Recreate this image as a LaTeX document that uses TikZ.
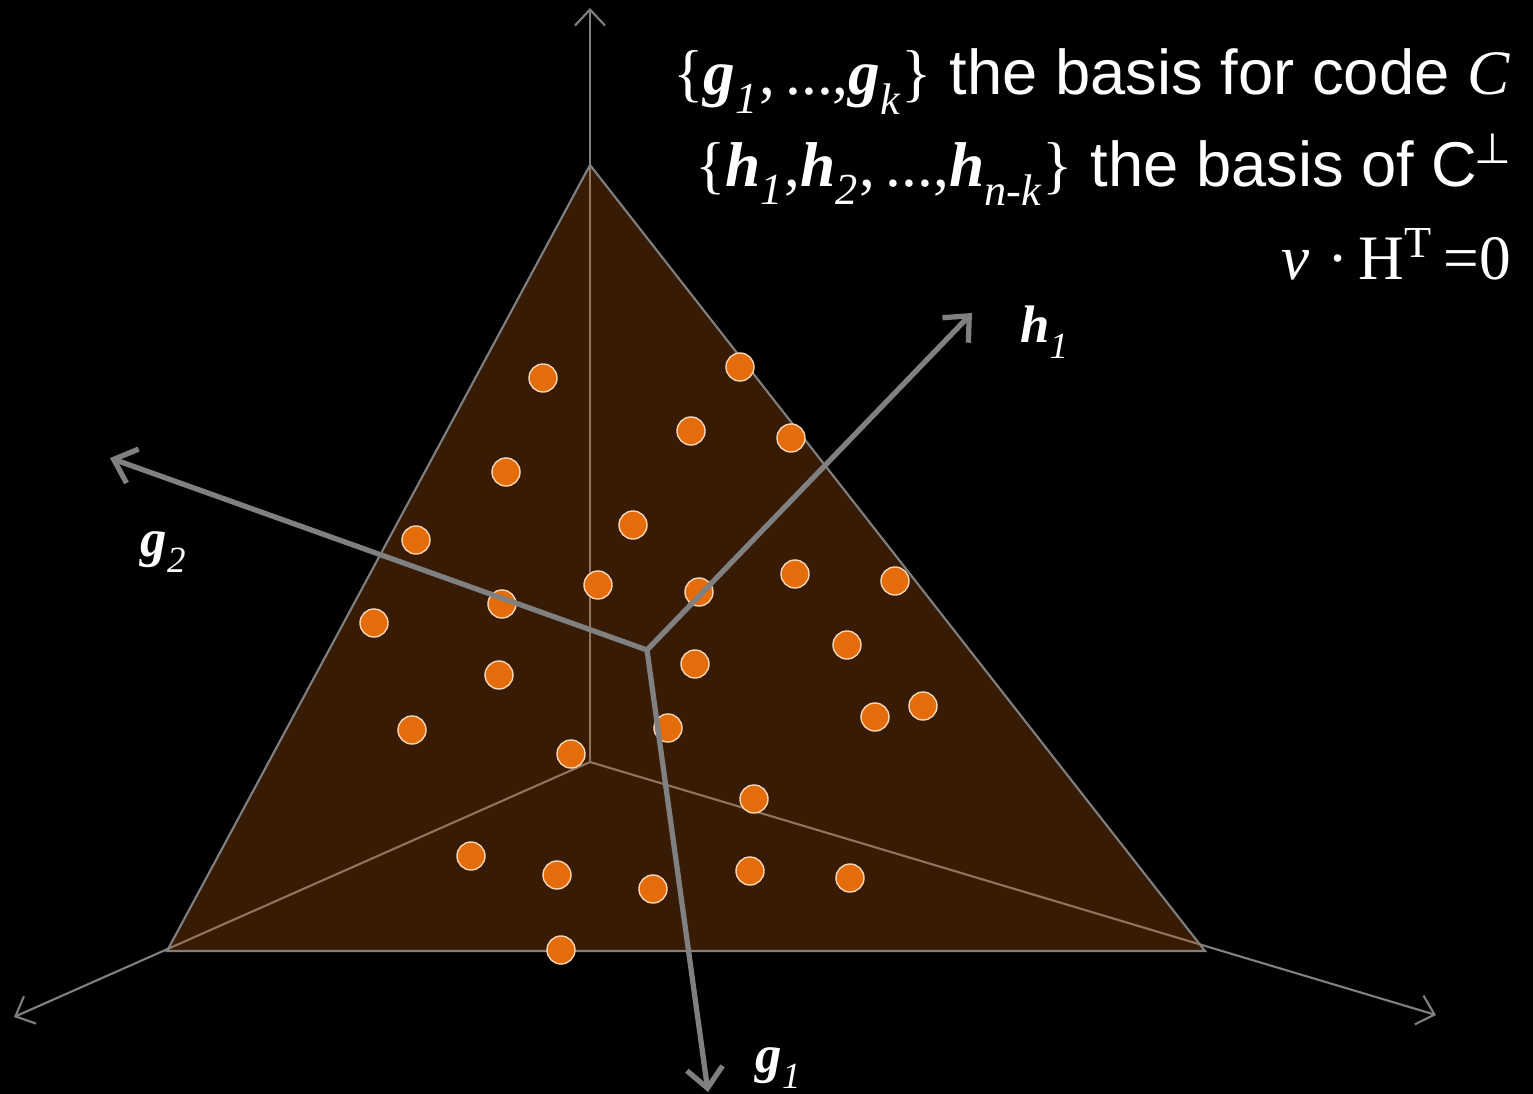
\documentclass[tikz,border=0pt]{standalone}
\usepackage{fontspec}
\setmainfont{Liberation Sans}
\newfontfamily\tms{Liberation Serif}
\newfontfamily\djv{DejaVu Sans}
\usetikzlibrary{arrows.meta}
\definecolor{axisgray}{RGB}{128,128,128}
\definecolor{planebrown}{RGB}{183,90,17}
\definecolor{dotorange}{RGB}{228,108,10}
\definecolor{dotrim}{RGB}{252,213,181}
\newcommand{\vb}[2]{{\tms\bfseries\itshape #1}{\tms\itshape\raisebox{-0.15em}{\textsubscript{#2}}}}

\begin{document}
\begin{tikzpicture}[x=0.01cm,y=-0.01cm,
    axis/.style={axisgray,line width=0.6pt,-{Straight Barb[length=1.6mm,width=3mm]}},
    basis/.style={axisgray,line width=1.5pt,-{Straight Barb[length=2mm,width=3.6mm]}},
    dot/.style={circle,fill=dotorange,draw=dotrim,line width=0.4pt,inner sep=0pt,minimum size=0.28cm},
    title/.style={anchor=base east,inner sep=0pt,text=white,font=\fontsize{18}{21}\selectfont},
    lbl/.style={text=white,font=\fontsize{15}{18}\selectfont}]
  \fill[black] (0,0) rectangle (1533,1094);
  \useasboundingbox (0,0) rectangle (1533,1094);
  % the space and its axes
  \coordinate (O) at (590,762);
  \coordinate (A) at (590,165);
  \coordinate (BL) at (167,951);
  \coordinate (BR) at (1205,951);
  \coordinate (top) at (590,8);
  \coordinate (lft) at (14,1017);
  \coordinate (rgt) at (1436,1015);
  \draw[axis] (O) -- (top);
  \draw[axis] (O) -- (lft);
  \draw[axis] (O) -- (rgt);
  \fill[planebrown,fill opacity=0.3] (A) -- (BL) -- (BR) -- cycle;
  \draw[axisgray,line width=0.6pt] (A) -- (BL) -- (BR) -- cycle;
  % codewords
  \foreach \x/\y [count=\i] in {543/378,740/367,691/431,791/438,506/472,633/525,
      416/540,598/585,699/592,795/574,895/581,502/604,374/623,847/645,695/664,
      499/675,875/717,923/706,412/730,668/728,571/754,754/799,471/856,557/875,
      653/889,750/871,850/878,561/950}
    \node[dot] (d\i) at (\x,\y) {};
  % basis vectors
  \coordinate (V) at (647,650);
  \coordinate (h1) at (972,313);
  \coordinate (g2) at (110,458);
  \coordinate (g1) at (708,1092);
  \draw[basis] (V) -- (h1);
  \draw[basis] (V) -- (g2);
  \draw[basis] (V) -- (g1);
  \node[lbl] (lh1) at (1045,332) {\vb{h}{1}};
  \node[lbl] (lg2) at (164,552) {\vb{g}{2}};
  \node[lbl] (lg1) at (779,1068) {\vb{g}{1}};
  % text
  \node[title] (lineG) at (1510,95)
    {{\tms\{}\vb{g}{1}{\tms,\,...,}\vb{g}{k}{\tms\}} the basis for code {\tms\itshape C}};
  \node[title] (lineH) at (1512,186)
    {{\tms\{}\vb{h}{1}{\tms,}\vb{h}{2}{\tms,\,...,}\vb{h}{n-k}{\tms\}} the basis of C\kern-0.05em\raisebox{0.35em}{\djv\fontsize{12}{14}\selectfont ⊥}};
  \node[title] (lineV) at (1512,280)
    {{\tms\itshape v} {\tms ·\,H\textsuperscript{T}\,=0}};
\end{tikzpicture}
\end{document}
